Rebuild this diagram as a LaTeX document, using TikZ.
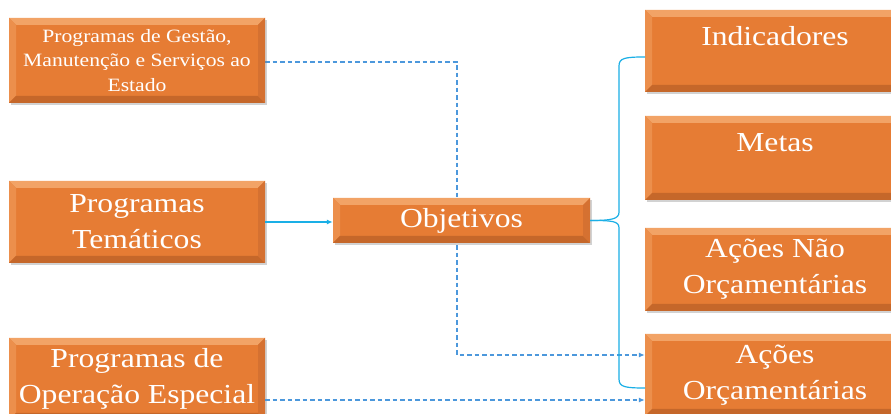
\documentclass[tikz,border=0pt]{standalone}
\usepackage{fontspec}
\setmainfont[FakeStretch=1.15]{Liberation Serif}
\usetikzlibrary{arrows.meta,shadows}
\definecolor{boxor}{HTML}{E67C34}
\definecolor{bvtop}{HTML}{F2A366}
\definecolor{bvleft}{HTML}{EC8F4C}
\definecolor{bvbot}{HTML}{C5672A}
\definecolor{bvright}{HTML}{D57131}
\definecolor{dashblue}{HTML}{4C98DC}
\definecolor{solblue}{HTML}{1AAFE6}
\pgfdeclarelayer{background}
\pgfsetlayers{background,main}
\newcommand{\bvs}{7pt}
\tikzset{
  bx/.style={fill=boxor, text=white, inner sep=0pt, align=center,
    minimum width=256pt,
    drop shadow={shadow xshift=1.5pt, shadow yshift=-2pt, opacity=0.35},
    path picture={
      \fill[bvtop] (path picture bounding box.north west) -- (path picture bounding box.north east)
        -- ([xshift=-\bvs,yshift=-\bvs]path picture bounding box.north east)
        -- ([xshift=\bvs,yshift=-\bvs]path picture bounding box.north west) -- cycle;
      \fill[bvleft] (path picture bounding box.north west) -- ([xshift=\bvs,yshift=-\bvs]path picture bounding box.north west)
        -- ([xshift=\bvs,yshift=\bvs]path picture bounding box.south west)
        -- (path picture bounding box.south west) -- cycle;
      \fill[bvbot] (path picture bounding box.south west) -- (path picture bounding box.south east)
        -- ([xshift=-\bvs,yshift=\bvs]path picture bounding box.south east)
        -- ([xshift=\bvs,yshift=\bvs]path picture bounding box.south west) -- cycle;
      \fill[bvright] (path picture bounding box.north east) -- ([xshift=-\bvs,yshift=-\bvs]path picture bounding box.north east)
        -- ([xshift=-\bvs,yshift=\bvs]path picture bounding box.south east)
        -- (path picture bounding box.south east) -- cycle;
    }},
  big/.style={font=\fontsize{27.5}{36}\selectfont},
  small/.style={font=\fontsize{18.8}{24.5}\selectfont},
  dsh/.style={dashblue, line width=1.3pt, dash pattern=on 4.5pt off 3pt, -{Latex[length=6pt,width=5pt]}},
  sol/.style={solblue, line width=1.2pt},
  solar/.style={sol, -{Latex[length=6pt,width=5pt]}},
}
\begin{document}
\begin{tikzpicture}[x=1pt,y=1pt]
\useasboundingbox (0,0) rectangle (891,414);
\clip (0,0) rectangle (891,414);

\node[bx, small, minimum height=85pt] (b1) at (137,353.5) {Programas de Gestão,\\Manutenção e Serviços ao\\Estado};
\node[bx, big, minimum height=82pt] (b2) at (137,192) {Programas\\Temáticos};
\node[bx, big, minimum height=82pt] (b3) at (137,35) {Programas de\\Operação Especial};
\node[bx, big, minimum width=257pt, minimum height=45pt] (obj) at (461.5,193.5) {Objetivos};
\node[bx, big, minimum width=260pt, minimum height=82pt] (ind) at (775,363) {Indicadores\\[-16pt]\strut};
\node[bx, big, minimum width=260pt, minimum height=84pt] (met) at (775,256) {Metas\\[-16pt]\strut};
\node[bx, big, minimum width=260pt, minimum height=83pt] (anao) at (775,144.5) {Ações Não\\Orçamentárias};
\node[bx, big, minimum width=260pt, minimum height=82pt] (aorc) at (775,39) {Ações\\Orçamentárias};

\coordinate (j1) at (457,352);
\coordinate (l3) at (0,14);
\coordinate (bt) at (645,357);
\coordinate (bb) at (645,26);

\begin{pgfonlayer}{background}
\fill[white] (0,0) rectangle (891,414);
\draw[dsh] (b1.east |- j1) -- (j1) |- ([yshift=20pt]aorc.west);
\end{pgfonlayer}
\draw[dsh] (b3.east |- l3) -- (aorc.west |- l3);
\draw[solar] (b2.east) -- (b2.east -| obj.west);
\draw[sol] (bt) .. controls (625,357) and (619,356) .. (619,348) -- (619,202)
  .. controls (619,195) and (612,193.5) .. (obj.east);
\draw[sol] (bb) .. controls (625,26) and (619,27) .. (619,35) -- (619,186)
  .. controls (619,193) and (612,193.5) .. (obj.east);
\end{tikzpicture}
\end{document}
